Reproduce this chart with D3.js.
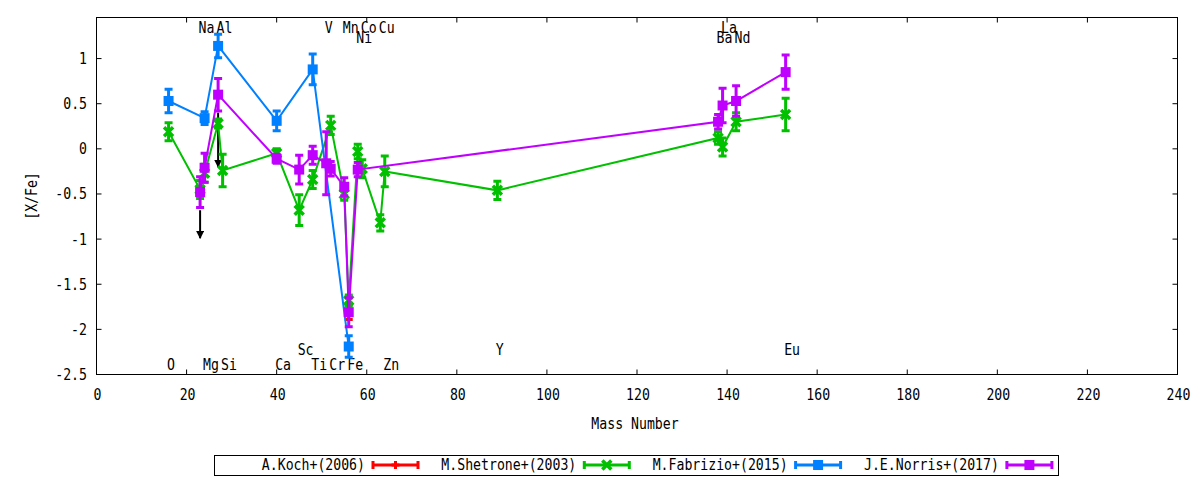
<!DOCTYPE html>
<html lang="en">
<head>
<meta charset="UTF-8">
<title>[X/Fe] vs Mass Number</title>
<script src="https://d3js.org/d3.v7.min.js"></script>
<style>
  body { margin: 0; background: #fff; }
  text { font-family: "DejaVu Sans Mono", monospace; font-size: 15px; fill: #000; }
</style>
</head>
<body>
<svg id="main" width="1200" height="480"></svg>
<script>
// element labels (mass number, y position in [X/Fe] units)
let labelNames = ['O', 'Na', 'Mg', 'Al', 'Si', 'Ca', 'Sc', 'Ti', 'V', 'Cr', 'Mn', 'Fe', 'Co', 'Ni', 'Cu', 'Zn', 'Y', 'Ba', 'La', 'Nd', 'Eu'];
let labelMass  = [16, 23, 24, 27, 28, 40, 45, 48, 51, 52, 55, 56, 59, 58, 63, 64, 89, 138, 139, 142, 153];
let labelY     = [-2.39, 1.34, -2.39, 1.34, -2.39, -2.39, -2.22, -2.39, 1.34, -2.39, 1.34, -2.39, 1.34, 1.23, 1.34, -2.39, -2.22, 1.23, 1.34, 1.23, -2.22];

// A.Koch+(2006)
let kochMass = [56];
let kochVal  = [-1.80];
let kochErr  = [0.09];

// M.Shetrone+(2003)
let shetMass = [16, 23, 24, 27, 28, 40, 45, 48, 52, 55, 56, 58, 59, 63, 64, 89, 138, 139, 142, 153];
let shetVal  = [0.19, -0.45, -0.27, 0.28, -0.24, -0.05, -0.68, -0.34, 0.26, -0.50, -1.68, -0.03, -0.22, -0.82, -0.25, -0.46, 0.12, 0.02, 0.30, 0.38];
let shetErr  = [0.10, 0.10, 0.10, 0.05, 0.18, 0.05, 0.17, 0.10, 0.10, 0.07, 0.06, 0.08, 0.10, 0.09, 0.17, 0.10, 0.07, 0.10, 0.10, 0.18];

// M.Fabrizio+(2015)
let fabMass = [16, 24, 27, 40, 48, 56];
let fabVal  = [0.53, 0.34, 1.14, 0.31, 0.88, -2.19];
let fabErr  = [0.13, 0.07, 0.13, 0.11, 0.17, 0.12];

// J.E.Norris+(2017)
let norMass = [23, 24, 27, 40, 45, 48, 51, 52, 55, 56, 58, 138, 139, 142, 153];
let norVal  = [-0.48, -0.21, 0.60, -0.11, -0.23, -0.07, -0.16, -0.22, -0.42, -1.81, -0.23, 0.30, 0.48, 0.53, 0.85];
let norErr  = [0.17, 0.16, 0.18, 0.05, 0.16, 0.10, 0.35, 0.08, 0.10, 0.16, 0.08, 0.08, 0.19, 0.17, 0.19];

// upper limit arrows
let limitMass = [23, 27];
let limitFrom = [-0.68, 0.40];
let limitTo   = [-0.99, -0.20];

let xTicks = d3.range(0, 241, 20);
let yTicks = [-2.5, -2, -1.5, -1, -0.5, 0, 0.5, 1];

let series = [
    {name: 'A.Koch+(2006)',     color: '#ff0000', mark: 'plus',   m: kochMass, v: kochVal, e: kochErr},
    {name: 'M.Shetrone+(2003)', color: '#00c000', mark: 'cross',  m: shetMass, v: shetVal, e: shetErr},
    {name: 'M.Fabrizio+(2015)', color: '#0080ff', mark: 'square', m: fabMass,  v: fabVal,  e: fabErr},
    {name: 'J.E.Norris+(2017)', color: '#c000ff', mark: 'square', m: norMass,  v: norVal,  e: norErr}
];

let pLeft = 96.5, pRight = 1177.5, pTop = 17.5, pBottom = 374.5;
let x = d3.scaleLinear().domain([0, 240]).range([pLeft, pRight]);
let y = d3.scaleLinear().domain([-2.5, 1.455]).range([pBottom, pTop]);

let svg = d3.select('svg#main');

// squeezed monospace text like the original terminal font
function txt(g, px, py, s, anchor, rot) {
    return g.append('text')
        .attr('transform', 'translate(' + px + ',' + py + ')' + (rot ? ' rotate(' + rot + ')' : '') + ' scale(0.88,1)')
        .attr('text-anchor', anchor)
        .attr('dy', '0.36em')
        .text(s);
}

function marker(g, type, color, px, py) {
    if (type == 'square') {
        g.append('rect').attr('x', px - 5).attr('y', py - 5).attr('width', 10).attr('height', 10).attr('fill', color);
    } else if (type == 'cross') {
        g.append('path').attr('d', 'M' + (px - 4.5) + ',' + (py - 4.5) + 'L' + (px + 4.5) + ',' + (py + 4.5) +
            'M' + (px - 4.5) + ',' + (py + 4.5) + 'L' + (px + 4.5) + ',' + (py - 4.5))
            .attr('stroke', color).attr('stroke-width', 3.5).attr('fill', 'none');
    } else {
        g.append('path').attr('d', 'M' + (px - 4) + ',' + py + 'L' + (px + 4) + ',' + py +
            'M' + px + ',' + (py - 4) + 'L' + px + ',' + (py + 4))
            .attr('stroke', color).attr('stroke-width', 3).attr('fill', 'none');
    }
}

// ticks (mirrored, inward)
let axes = svg.append('g').attr('stroke', '#000').attr('stroke-width', 1);
xTicks.forEach(function(t) {
    axes.append('line').attr('x1', x(t)).attr('x2', x(t)).attr('y1', pBottom).attr('y2', pBottom - 5);
    axes.append('line').attr('x1', x(t)).attr('x2', x(t)).attr('y1', pTop).attr('y2', pTop + 5);
    txt(svg, x(t) + 1, 395, String(t), 'middle');
});
yTicks.forEach(function(t) {
    axes.append('line').attr('x1', pLeft).attr('x2', pLeft + 5).attr('y1', y(t)).attr('y2', y(t));
    axes.append('line').attr('x1', pRight).attr('x2', pRight - 5).attr('y1', y(t)).attr('y2', y(t));
    txt(svg, 87, y(t), String(t), 'end');
});

txt(svg, 635, 424, 'Mass Number', 'middle');
txt(svg, 32, 196, '[X/Fe]', 'middle', -90);

// element labels
labelNames.forEach(function(n, i) {
    txt(svg, x(labelMass[i]) - 1.5, y(labelY[i]), n, 'start');
});

// arrowhead
svg.append('defs').append('marker')
    .attr('id', 'head').attr('viewBox', '0 0 10 10').attr('refX', 9).attr('refY', 5)
    .attr('markerWidth', 4).attr('markerHeight', 4).attr('orient', 'auto')
    .append('path').attr('d', 'M0,0L10,5L0,10Z').attr('fill', '#000');

let plot = svg.append('g');

// upper limit arrows (behind data)
limitMass.forEach(function(m, i) {
    plot.append('line')
        .attr('x1', x(m)).attr('x2', x(m))
        .attr('y1', y(limitFrom[i])).attr('y2', y(limitTo[i]))
        .attr('stroke', '#000').attr('stroke-width', 2)
        .attr('marker-end', 'url(#head)');
});

let line = d3.line()
    .x(function(d) { return x(d[0]); })
    .y(function(d) { return y(d[1]); });

series.forEach(function(s) {
    let g = plot.append('g');
    let pts = s.m.map(function(m, i) { return [m, s.v[i], s.e[i]]; });
    g.append('path').datum(pts).attr('d', line)
        .attr('fill', 'none').attr('stroke', s.color).attr('stroke-width', 2);
    pts.forEach(function(p) {
        let px = x(p[0]), y1 = y(p[1] + p[2]), y2 = y(p[1] - p[2]);
        g.append('path')
            .attr('d', 'M' + px + ',' + y1 + 'L' + px + ',' + y2 +
                'M' + (px - 4) + ',' + y1 + 'L' + (px + 4) + ',' + y1 +
                'M' + (px - 4) + ',' + y2 + 'L' + (px + 4) + ',' + y2)
            .attr('stroke', s.color).attr('stroke-width', 3).attr('fill', 'none');
        marker(g, s.mark, s.color, px, y(p[1]));
    });
});

// frame
svg.append('rect').attr('x', pLeft).attr('y', pTop)
    .attr('width', pRight - pLeft).attr('height', pBottom - pTop)
    .attr('fill', 'none').attr('stroke', '#000').attr('stroke-width', 1);

// legend
let lg = svg.append('g');
lg.append('rect').attr('x', 214.5).attr('y', 455.5).attr('width', 844).attr('height', 20)
    .attr('fill', 'none').attr('stroke', '#000').attr('stroke-width', 1);
series.forEach(function(s, i) {
    let end = 365 + i * 211.3;
    txt(lg, end, 465, s.name, 'end');
    let a = end + 8, b = end + 53, yy = 465;
    lg.append('path')
        .attr('d', 'M' + a + ',' + yy + 'L' + b + ',' + yy +
            'M' + a + ',' + (yy - 4) + 'L' + a + ',' + (yy + 4) +
            'M' + b + ',' + (yy - 4) + 'L' + b + ',' + (yy + 4))
        .attr('stroke', s.color).attr('stroke-width', 3).attr('fill', 'none');
    marker(lg, s.mark, s.color, (a + b) / 2, yy);
});
</script>
</body>
</html>
